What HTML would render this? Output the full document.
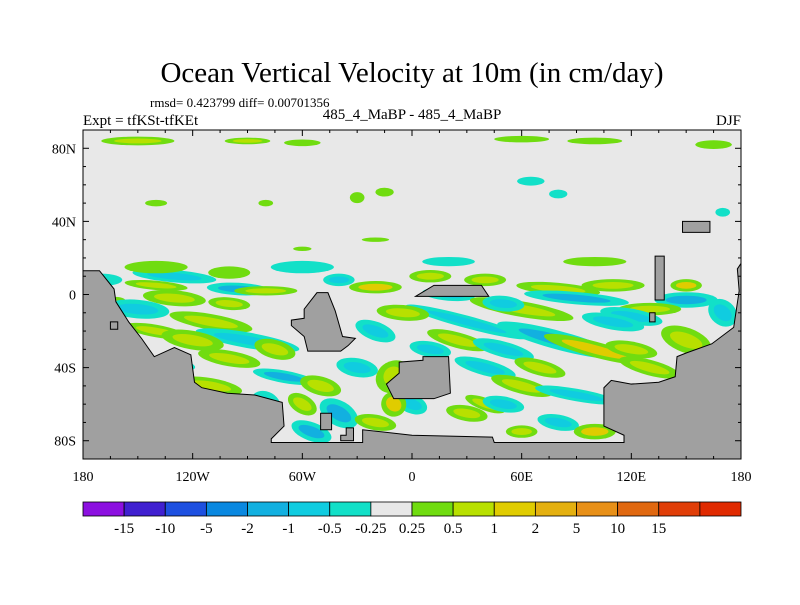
<!DOCTYPE html>
<html><head><meta charset="utf-8"><style>
body{margin:0;background:#fff;}
svg text{font-family:"Liberation Serif",serif;fill:#000;}
</style></head><body>
<svg id="c" width="800" height="600" xmlns="http://www.w3.org/2000/svg">
<text x="412" y="82" font-size="29" text-anchor="middle">Ocean Vertical Velocity at 10m (in cm/day)</text>
<text x="150" y="107" font-size="13">rmsd= 0.423799 diff= 0.00701356</text>
<text x="83" y="125" font-size="15">Expt = tfKSt-tfKEt</text>
<text x="412" y="119" font-size="15" text-anchor="middle">485_4_MaBP - 485_4_MaBP</text>
<text x="741" y="125" font-size="15" text-anchor="end">DJF</text>
<defs><clipPath id="pc"><rect x="83" y="130" width="658" height="329"/></clipPath></defs>
<rect x="83" y="130" width="658" height="329" fill="#e8e8e8"/>
<g id="blobs" clip-path="url(#pc)"></g>
<g id="land" clip-path="url(#pc)"></g>
<rect x="83" y="130" width="658" height="329" fill="none" stroke="#000" stroke-width="1"/>
<g id="axes"></g>
<g id="cbar"></g>
</svg>
<script>
const levels=[-15,-10,-5,-2,-1,-0.5,-0.25,0.25,0.5,1,2,5,10,15];
const levelLabels=["-15","-10","-5","-2","-1","-0.5","-0.25","0.25","0.5","1","2","5","10","15"];
const colors=["#8c10e0","#4020d0","#1e50e0","#0a88e0","#12b0e0","#10cce0","#12e0c8","#e8e8e8","#70dc10","#b8e000","#e0cc00","#e4b010","#e89018","#e06810","#e03e08","#e02a00"];
const lonTicks=[-180,-120,-60,0,60,120,180];
const lonLabels=["180","120W","60W","0","60E","120E","180"];
const latTicks=[80,40,0,-40,-80];
const latLabels=["80N","40N","0","40S","80S"];
// blobs: lon, lat, width(deg), height(deg), value, rotation
const blobLon=[-150,-90,-60,60,100,165,-140,-80,-30,-15,65,80,170,-170,-20,-60,-130,-100,-140,-95,-80,-130,-40,-20,10,40,20,80,90,110,150,150,130,60,30,80,100,-110,-140,-90,-100,-130,-70,-110,-20,-10,10,40,60,90,150,130,160,80,-40,-55,-20,100,60,-170,-165,-170,170,-60,0,40,120,
 -150,-120,-160,-75,-50,-80,-30,-5,25,50,70,110,120,170,0,30,50,120,140,-100,-140,-60,20,100,-100,50,-10];
const blobLat=[84,84,83,85,84,82,50,50,53,56,62,55,45,8,30,25,10,12,5,3,2,-2,8,4,10,8,0,3,-2,5,-3,5,-8,-8,-15,-25,-30,-15,-20,-25,-35,-38,-45,-50,-20,-45,-30,-40,-50,-55,-25,-40,-40,-70,-65,-75,-70,-75,-75,-10,-5,-20,-60,-60,-60,-60,-12,
 -8,-25,-35,-30,-50,-60,-40,-10,-25,-30,-40,-15,-30,-10,-60,-65,-60,-60,-55,-65,15,15,18,18,-5,-5,-60];
const blobW=[40,25,20,30,30,20,12,8,8,10,15,10,8,20,15,10,40,20,30,30,30,30,15,25,20,20,25,40,50,30,30,15,30,50,60,60,50,40,30,50,30,20,30,30,20,15,20,30,30,40,25,30,20,20,20,20,20,20,15,12,6,12,15,15,12,20,30,
 30,30,15,20,20,15,20,25,30,30,25,30,25,15,15,20,20,20,20,20,30,30,25,30,20,20,12];
const blobH=[4,3,3,3,3,4,3,3,5,4,4,4,4,4,2,2,4,4,3,4,3,5,4,4,4,4,4,4,4,4,5,4,4,5,4,6,5,5,4,5,5,4,4,5,6,12,5,5,5,4,8,5,4,5,8,6,5,5,4,18,10,10,5,6,5,4,5,
 6,6,8,6,6,8,6,5,5,5,5,5,5,8,6,5,5,5,6,4,4,4,3,3,4,5,8];
const blobVal=[0.5,0.5,0.4,0.4,0.3,0.3,0.4,0.4,0.4,0.3,-0.4,-0.4,-0.4,-0.4,0.3,0.3,-0.8,0.4,0.7,-2,0.7,0.6,-0.6,1,0.5,0.5,-0.6,0.7,-1.5,0.5,-1.5,1,0.6,0.7,-0.8,-1.2,1,0.7,0.6,-0.8,0.8,-0.7,-1.2,0.6,-0.8,0.7,-0.6,-0.8,0.6,-0.7,0.8,0.7,-0.7,-0.6,-1.2,-1.5,0.6,1.5,0.6,-1,2,0.6,-0.7,0.6,-0.6,0.6,-0.7,
 -1,0.8,-1,0.7,0.6,-1,-0.7,0.6,0.6,-1,0.7,-0.8,0.6,-0.8,-0.6,0.6,-0.6,0.6,-0.7,0.5,0.4,-0.5,-0.4,0.4,0.6,-0.6,1];
const blobRot=[0,0,0,0,0,0,0,0,0,0,0,0,0,0,0,0,5,0,5,3,0,5,0,0,0,0,5,5,5,0,0,0,0,10,15,15,15,10,10,10,10,10,10,10,20,60,10,15,15,10,20,15,10,10,30,20,10,0,0,80,80,60,10,30,30,20,10,
 5,10,40,15,15,30,10,5,15,15,15,10,10,40,20,10,10,10,15,5,0,0,0,0,5,5,40];
// land polygons (lon,lat pairs)
const landPolys=[
 [[-180,77],[-180,13],[-171,13],[-163,3],[-162,-4],[-155,-15],[-148,-24],[-141,-34],[-130,-29],[-121,-33],[-119,-48],[-115,-51],[-101,-54],[-86,-55],[-71,-59],[-70,-72],[-77,-79],[-77,-81],[-27,-81],[-27,-74],[0,-77],[44,-78],[45,-81],[116,-81],[116,-77],[105,-72],[105,-51],[109,-47],[120,-49],[135,-48],[144,-45],[145,-34],[150,-32],[164,-27],[176,-18],[179,2],[178,14],[180,17],[180,-95],[-180,-95]],
 [[-52,1],[-46,1],[-42,-9],[-38,-23],[-31,-24],[-35,-28],[-39,-31],[-57,-31],[-59,-23],[-66,-17],[-66,-14],[-59,-13],[-59,-8]],
 [[6,-34],[20,-34],[21,-54],[12,-57],[-10,-57],[-14,-49],[-7,-43],[-7,-37],[6,-36]],
 [[2,-1],[12,5],[38,5],[42,-1]],
 [[133,-3],[133,21],[138,21],[138,-3]],
 [[148,40],[148,34],[163,34],[163,40]],
 [[130,-10],[133,-10],[133,-15],[130,-15]],
 [[-165,-15],[-161,-15],[-161,-19],[-165,-19]],
 [[-50,-65],[-44,-65],[-44,-74],[-50,-74]],
 [[-36,-73],[-32,-73],[-32,-80],[-39,-80],[-39,-77],[-36,-77]]
];
const X=lon=>83+(lon+180)*658/360;
const Y=lat=>130+(90-lat)*329/180;
const NS="http://www.w3.org/2000/svg";
function colorFor(v){let i=0;while(i<levels.length&&v>=levels[i])i++;return colors[i];}
const bg=document.getElementById('blobs');
for(let i=0;i<blobLon.length;i++){
 const v=blobVal[i];
 const south=blobLat[i]<20;
 const cx=X(blobLon[i]),cy=Y(blobLat[i]);
 const rx=blobW[i]*658/720*(south?1.15:1), ry=blobH[i]*329/360*(south?1.7:1.2);
 const outer=document.createElementNS(NS,'ellipse');
 outer.setAttribute('cx',cx);outer.setAttribute('cy',cy);outer.setAttribute('rx',rx);outer.setAttribute('ry',ry);
 outer.setAttribute('transform','rotate('+blobRot[i]+' '+cx+' '+cy+')');
 outer.setAttribute('fill',colorFor(v>0?Math.min(v,0.3):Math.max(v,-0.3)));
 
 
 bg.appendChild(outer);
 if(Math.abs(v)>=0.5){
  const inner=document.createElementNS(NS,'ellipse');
  inner.setAttribute('cx',cx);inner.setAttribute('cy',cy);inner.setAttribute('rx',rx*0.65);inner.setAttribute('ry',ry*0.55);
  inner.setAttribute('transform','rotate('+blobRot[i]+' '+cx+' '+cy+')');
  inner.setAttribute('fill',colorFor(v));
  
  
  bg.appendChild(inner);
 }
}
const lg=document.getElementById('land');
landPolys.forEach(p=>{
 const pg=document.createElementNS(NS,'polygon');
 pg.setAttribute('points',p.map(q=>X(q[0])+','+Y(q[1])).join(' '));
 pg.setAttribute('fill','#a0a0a0');pg.setAttribute('stroke','#000');pg.setAttribute('stroke-width','1');
 
 
 lg.appendChild(pg);
});
const ax=document.getElementById('axes');
function line(x1,y1,x2,y2,name){const l=document.createElementNS(NS,'line');l.setAttribute('x1',x1);l.setAttribute('y1',y1);l.setAttribute('x2',x2);l.setAttribute('y2',y2);l.setAttribute('stroke','#000');
 
 
 ax.appendChild(l);}
function text(x,y,s,anchor,size,name,parent){const t=document.createElementNS(NS,'text');t.setAttribute('x',x);t.setAttribute('y',y);t.setAttribute('text-anchor',anchor);t.setAttribute('font-size',size);t.textContent=s;
 
 
 (parent||ax).appendChild(t);}
for(let lon=-180;lon<=180;lon+=15){const major=lon%60===0;line(X(lon),459,X(lon),459-(major?6:3),'x-tick');line(X(lon),130,X(lon),130+(major?6:3),'x-tick-top');}
for(let lat=-80;lat<=80;lat+=10){const major=lat%40===0;line(83,Y(lat),83+(major?6:3),Y(lat),'y-tick');line(741,Y(lat),741-(major?6:3),Y(lat),'y-tick-right');}
lonTicks.forEach((l,i)=>text(X(l),481,lonLabels[i],'middle',14,'x-tick-label'));
latTicks.forEach((l,i)=>text(76,Y(l)+5,latLabels[i],'end',14,'y-tick-label'));
const cb=document.getElementById('cbar');
const bw=658/colors.length;
colors.forEach((c,i)=>{const r=document.createElementNS(NS,'rect');r.setAttribute('x',83+i*bw);r.setAttribute('y',502);r.setAttribute('width',bw);r.setAttribute('height',14);r.setAttribute('fill',c);r.setAttribute('stroke','#000');r.setAttribute('stroke-width','0.8');
 
 
 cb.appendChild(r);});
levelLabels.forEach((s,i)=>text(83+(i+1)*bw,533,s,'middle',15,'colorbar-label',cb));
</script>
</body></html>
